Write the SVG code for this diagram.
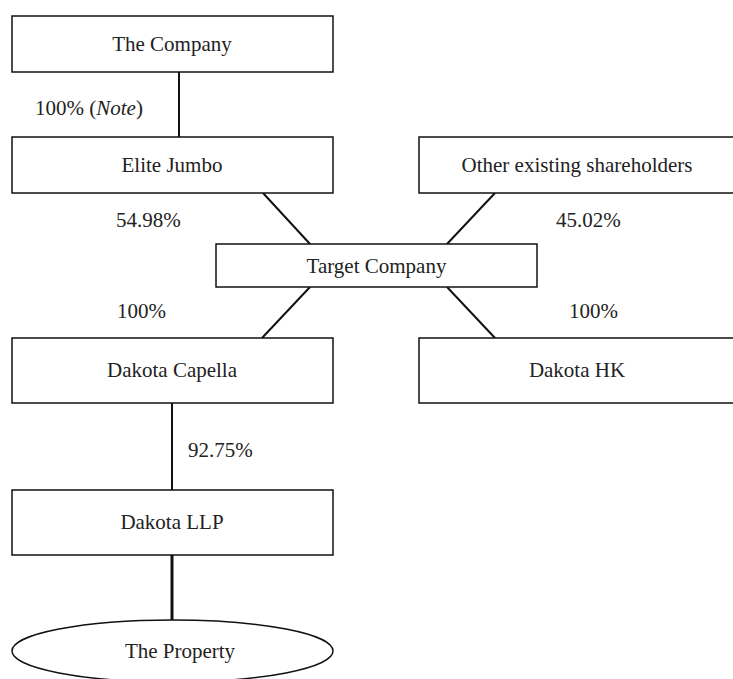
<svg xmlns="http://www.w3.org/2000/svg" width="733" height="679" viewBox="0 0 733 679">
<style>
.box{fill:#fff;stroke:#111;stroke-width:1.5}
.t{font-family:'Liberation Serif','Times New Roman','DejaVu Serif',serif;font-size:21px;fill:#222}
.c{text-anchor:middle}
.ln{stroke:#111;stroke-width:2;fill:none}
</style>
<rect width="733" height="679" fill="#fff"/>
<g id="connectors">
<line class="ln" x1="179" y1="72" x2="179" y2="137"/>
<line class="ln" x1="263" y1="193" x2="310" y2="244"/>
<line class="ln" x1="495" y1="193" x2="447" y2="244"/>
<line class="ln" x1="310" y1="287" x2="262" y2="338"/>
<line class="ln" x1="447" y1="287" x2="495" y2="338"/>
<line class="ln" x1="172" y1="403" x2="172" y2="490"/>
<line class="ln" x1="172" y1="555" x2="172" y2="620" style="stroke-width:3"/>
<text class="t" x="35" y="115">100% (<tspan font-style="italic">Note</tspan>)</text>
<text class="t" x="116" y="227">54.98%</text>
<text class="t" x="556" y="227">45.02%</text>
<text class="t" x="117" y="318">100%</text>
<text class="t" x="569" y="318">100%</text>
<text class="t" x="188" y="457">92.75%</text>
</g>
<g id="the-company"><rect class="box" x="12" y="16" width="321" height="56"/><text class="t c" x="172" y="51">The Company</text></g>
<g id="elite-jumbo"><rect class="box" x="12" y="137" width="321" height="56"/><text class="t c" x="172" y="172">Elite Jumbo</text></g>
<g id="other-shareholders"><rect class="box" x="419" y="137" width="330" height="56"/><text class="t c" x="577" y="172">Other existing shareholders</text></g>
<g id="target-company"><rect class="box" x="216" y="244" width="321" height="43"/><text class="t c" x="376.5" y="273">Target Company</text></g>
<g id="dakota-capella"><rect class="box" x="12" y="338" width="321" height="65"/><text class="t c" x="172" y="377">Dakota Capella</text></g>
<g id="dakota-hk"><rect class="box" x="419" y="338" width="330" height="65"/><text class="t c" x="577" y="377">Dakota HK</text></g>
<g id="dakota-llp"><rect class="box" x="12" y="490" width="321" height="65"/><text class="t c" x="172" y="529">Dakota LLP</text></g>
<g id="the-property"><ellipse class="box" cx="172.5" cy="651" rx="160.5" ry="31"/><text class="t c" x="180" y="658">The Property</text></g>
</svg>
